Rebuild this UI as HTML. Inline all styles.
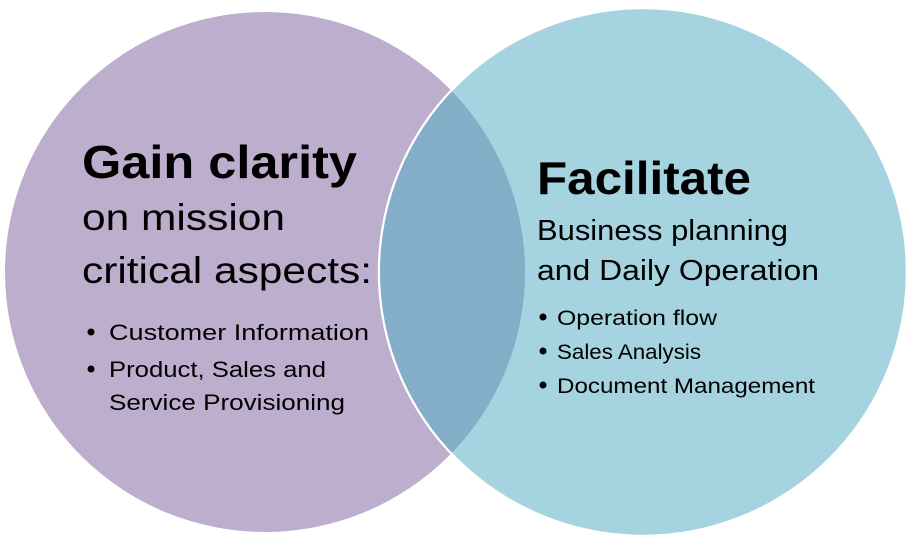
<!DOCTYPE html>
<html><head><style>html,body{margin:0;padding:0;background:#fff}svg{display:block}text{font-family:"Liberation Sans",sans-serif;fill:#000}</style></head>
<body>
<svg width="914" height="544" viewBox="0 0 914 544">
<defs><clipPath id="lc"><circle cx="265" cy="272" r="260"/></clipPath></defs>
<circle cx="265" cy="272" r="260" fill="#BEAECE"/>
<circle cx="643" cy="272" r="264" fill="#A5D3E0" stroke="#fff" stroke-width="2.5"/>
<circle cx="643" cy="272" r="263" fill="#84ADC8" clip-path="url(#lc)"/>
<text x="82" y="178" font-size="46" font-weight="bold" textLength="275" lengthAdjust="spacingAndGlyphs">Gain clarity</text>
<text x="82" y="230" font-size="37" textLength="203" lengthAdjust="spacingAndGlyphs">on mission</text>
<text x="82" y="283" font-size="37" textLength="290" lengthAdjust="spacingAndGlyphs">critical aspects:</text>
<circle cx="91" cy="332" r="3.5" fill="#000"/>
<text x="109" y="340" font-size="22" textLength="260" lengthAdjust="spacingAndGlyphs">Customer Information</text>
<circle cx="91" cy="369" r="3.5" fill="#000"/>
<text x="109" y="377" font-size="22" textLength="217" lengthAdjust="spacingAndGlyphs">Product, Sales and</text>
<text x="109" y="410" font-size="22" textLength="236" lengthAdjust="spacingAndGlyphs">Service Provisioning</text>
<text x="537" y="194" font-size="46" font-weight="bold" textLength="214" lengthAdjust="spacingAndGlyphs">Facilitate</text>
<text x="537" y="240" font-size="29" textLength="251" lengthAdjust="spacingAndGlyphs">Business planning</text>
<text x="537" y="280" font-size="29" textLength="282" lengthAdjust="spacingAndGlyphs">and Daily Operation</text>
<circle cx="543" cy="317" r="3.5" fill="#000"/>
<text x="557" y="325" font-size="21" textLength="160" lengthAdjust="spacingAndGlyphs">Operation flow</text>
<circle cx="543" cy="351" r="3.5" fill="#000"/>
<text x="557" y="359" font-size="21" textLength="144" lengthAdjust="spacingAndGlyphs">Sales Analysis</text>
<circle cx="543" cy="385" r="3.5" fill="#000"/>
<text x="557" y="393" font-size="21" textLength="258" lengthAdjust="spacingAndGlyphs">Document Management</text>
</svg>
</body></html>
